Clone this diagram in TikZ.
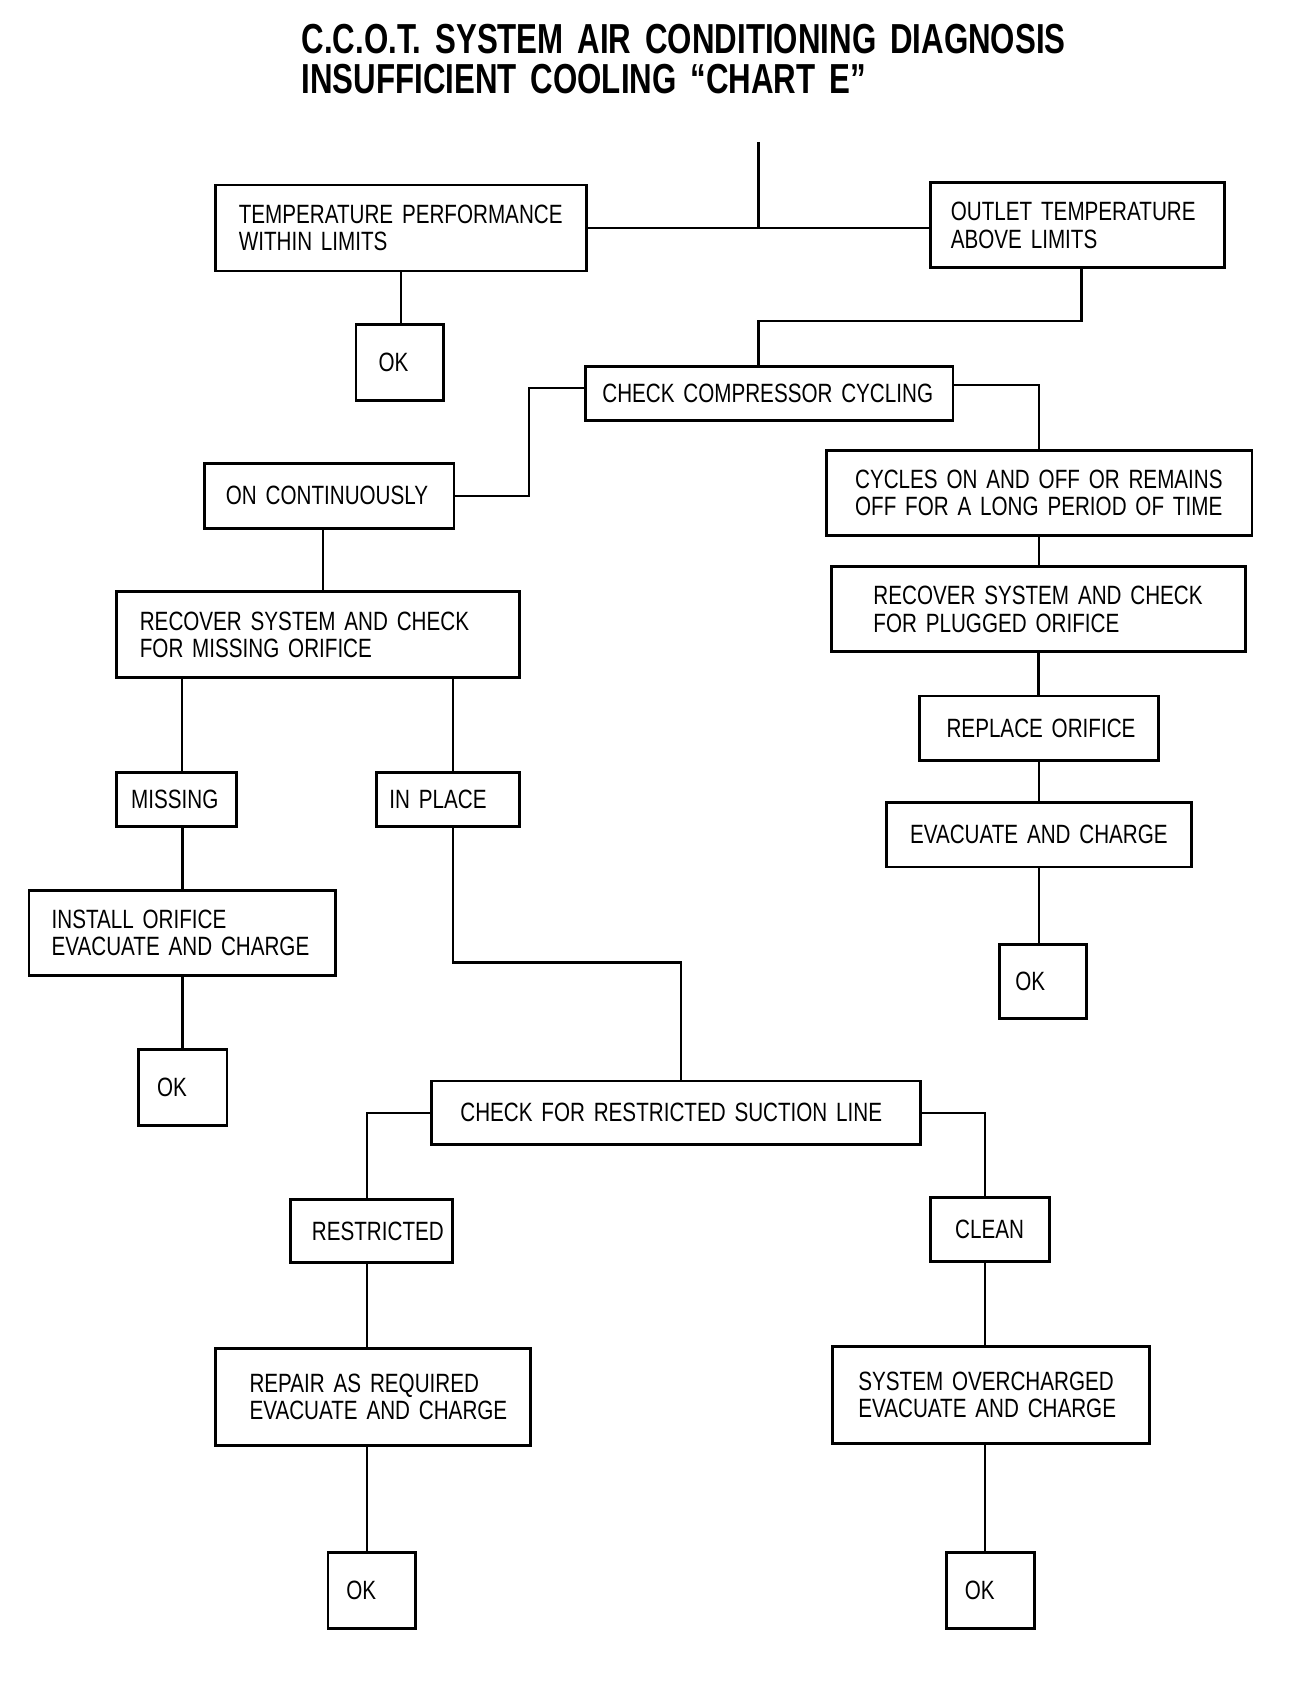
\documentclass[tikz,border=0pt]{standalone}
\usepackage{fontspec}
\setmainfont[FakeStretch=0.78, WordSpace=2.1]{Liberation Sans}
\newfontfamily\titlefont[FakeStretch=0.745, WordSpace=1.6]{Liberation Sans Bold}
\usetikzlibrary{calc}
\tikzset{
  box/.style={draw, line width=1.3pt, align=left, inner ysep=0pt,
    font=\fontsize{12.3}{12.6}\selectfont},
  conn/.style={line width=1.1pt},
  ttl/.style={font=\titlefont\fontsize{19.5}{20}\selectfont, inner sep=0pt, anchor=base west}
}
% name, x1, y1, x2, y2, pad, text
\newcommand\bx[7]{%
  \pgfmathsetmacro\bxw{(#4-#2-2*#6)*0.5}%
  \pgfmathsetmacro\bxh{(#5-#3)*0.5}%
  \pgfmathsetmacro\bxp{#6*0.5}%
  \node[box, text width=\bxw pt, inner xsep=\bxp pt, minimum height=\bxh pt]
    (#1) at ({(#2+#4)/2},{(#3+#5)/2}) {#7};}
\begin{document}
\begin{tikzpicture}[x=0.5pt,y=-0.5pt]
\useasboundingbox (0,0) rectangle (1220,1573);
\node[ttl] (t1) at (280,50) {C.C.O.T. SYSTEM AIR CONDITIONING DIAGNOSIS};
\node[ttl] (t2) at (280,87) {INSUFFICIENT COOLING “CHART E”};

\bx{TP}{200}{172}{545}{252}{22}{\mbox{TEMPERATURE PERFORMANCE}\\\mbox{WITHIN LIMITS}}
\bx{OKa}{331}{302}{412}{372}{21}{OK}
\bx{OT}{865}{170}{1138}{249}{19}{\mbox{OUTLET TEMPERATURE}\\\mbox{ABOVE LIMITS}}
\bx{CCC}{544}{341}{886}{391}{16}{\mbox{CHECK COMPRESSOR CYCLING}}
\bx{ONC}{190}{431}{422}{491}{20}{\mbox{ON CONTINUOUSLY}}
\bx{CYC}{768}{419}{1164}{498}{27}{\mbox{CYCLES ON AND OFF OR REMAINS}\\\mbox{OFF FOR A LONG PERIOD OF TIME}}
\bx{RPL}{773}{527}{1158}{606}{39}{\mbox{RECOVER SYSTEM AND CHECK}\\\mbox{FOR PLUGGED ORIFICE}}
\bx{REPL}{855}{647}{1077}{707}{25}{\mbox{REPLACE ORIFICE}}
\bx{EVAC}{824}{746}{1108}{806}{22}{\mbox{EVACUATE AND CHARGE}}
\bx{OKb}{929}{878}{1010}{947}{15}{OK}
\bx{RMO}{108}{550}{483}{630}{22}{\mbox{RECOVER SYSTEM AND CHECK}\\\mbox{FOR MISSING ORIFICE}}
\bx{MIS}{108}{718}{220}{768}{14}{\mbox{MISSING}}
\bx{INP}{350}{718}{483}{768}{12}{\mbox{IN PLACE}}
\bx{INST}{27}{828}{312}{907}{21}{\mbox{INSTALL ORIFICE}\\\mbox{EVACUATE AND CHARGE}}
\bx{OKc}{129}{976}{211}{1046}{17}{OK}
\bx{CFR}{401}{1005}{856}{1064}{27}{\mbox{CHECK FOR RESTRICTED SUCTION LINE}}
\bx{RES}{270}{1115}{421}{1174}{20}{\mbox{RESTRICTED}}
\bx{CLN}{865}{1113}{976}{1173}{23}{\mbox{CLEAN}}
\bx{REP}{200}{1254}{493}{1344}{32}{\mbox{REPAIR AS REQUIRED}\\\mbox{EVACUATE AND CHARGE}}
\bx{OKd}{305}{1443}{386}{1514}{17}{OK}
\bx{SYS}{774}{1252}{1069}{1342}{24}{\mbox{SYSTEM OVERCHARGED}\\\mbox{EVACUATE AND CHARGE}}
\bx{OKe}{880}{1443}{962}{1514}{17}{OK}

\coordinate (top) at (705,132);
\draw[conn] (TP.east) -- (OT.west |- TP.east);
\draw[conn] (top) -- (top |- TP.east);
\draw[conn] (TP.south) -- (TP.south |- OKa.north);
\draw[conn] ([xshift=2pt]OT.south) |- ($(CCC.north)+(-10,-41)$) -- ([xshift=-5pt]CCC.north);
\draw[conn] ([yshift=2.5pt]CCC.west) -- ++(-51,0) |- (ONC.east);
\draw[conn] ([yshift=4pt]CCC.east) -| (CYC.north);
\draw[conn] (CYC.south) -- (CYC.south |- RPL.north);
\draw[conn] (RPL.south) -- (RPL.south |- REPL.north);
\draw[conn] (REPL.south) -- (REPL.south |- EVAC.north);
\draw[conn] (EVAC.south) -- (EVAC.south |- OKb.north);
\draw[conn] ([xshift=-3pt]ONC.south) -- ([xshift=-3pt]ONC.south |- RMO.north);
\draw[conn] ([xshift=2.5pt]MIS.north) -- ([xshift=2.5pt]MIS.north |- RMO.south);
\draw[conn] ([xshift=2.25pt]INP.north) -- ([xshift=2.25pt]INP.north |- RMO.south);
\draw[conn] (INST.north) -- (INST.north |- MIS.south);
\draw[conn] (INST.south) -- (INST.south |- OKc.north);
\draw[conn] ([xshift=2.25pt]INP.south) |- ($(CFR.north)+(4.5,-109)$) -- ([xshift=2.25pt]CFR.north);
\draw[conn] (CFR.west) -| ([xshift=-2.25pt]RES.north);
\draw[conn] (CFR.east) -| ([xshift=-2.25pt]CLN.north);
\draw[conn] ([xshift=-2.25pt]RES.south) -- ([xshift=-2.25pt]RES.south |- REP.north);
\draw[conn] ([xshift=-2.25pt]RES.south |- REP.south) -- ([xshift=-2.25pt]RES.south |- OKd.north);
\draw[conn] ([xshift=-2.25pt]CLN.south) -- ([xshift=-2.25pt]CLN.south |- SYS.north);
\draw[conn] ([xshift=-2.25pt]CLN.south |- SYS.south) -- ([xshift=-2.25pt]CLN.south |- OKe.north);
\end{tikzpicture}
\end{document}
